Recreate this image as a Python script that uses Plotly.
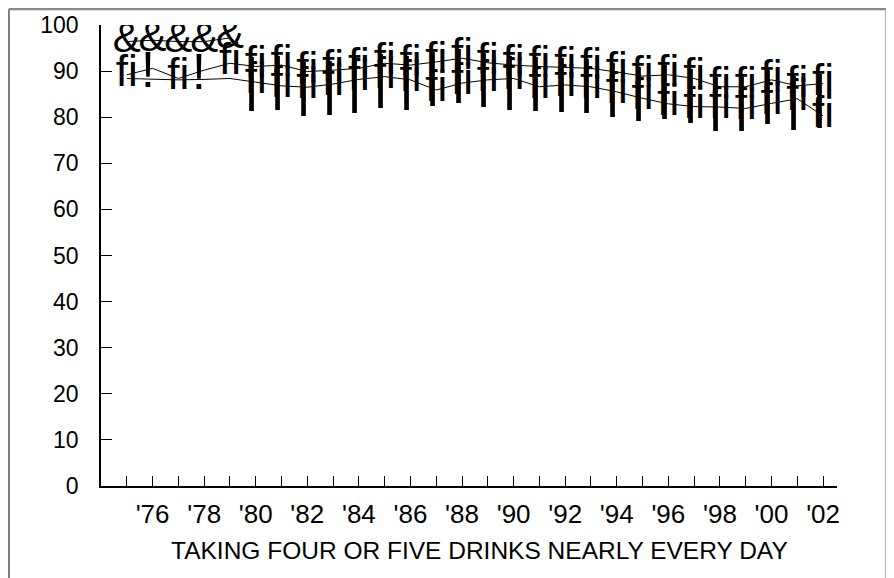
import plotly.graph_objects as go

years = list(range(1975, 2003))
tick_labels = ["'" + str(y)[2:] if y % 2 == 0 else "" for y in years]
x_title = "TAKING FOUR OR FIVE DRINKS NEARLY EVERY DAY"

# upper line
upper = [89.2, 90.6, 88.4, 90.2, 91.7, 91.0, 91.3, 89.9, 90.2, 90.6,
         91.7, 91.3, 92.0, 92.8, 91.8, 91.3, 91.0, 90.8, 90.6, 89.8,
         88.9, 89.2, 88.4, 86.6, 86.6, 88.1, 86.8, 87.3]
# lower line
lower = [88.4, 88.2, 88.1, 88.2, 88.4, 87.6, 86.8, 86.5, 87.2, 88.2,
         88.8, 88.1, 85.9, 87.4, 88.1, 88.4, 86.6, 87.0, 86.6, 85.5,
         84.1, 82.9, 82.3, 82.2, 81.9, 83.0, 84.0, 80.3]
# short top series 1975-79
top_years = [1975, 1976, 1977, 1978, 1979]
top_vals = [96.4, 96.7, 96.4, 96.4, 97.2]

upper_text = ["fi", "", "fi", "", "fi"] + ["fi"] * 23
excl_text = ["", "!", "", "!", ""] + [""] * 23
lower_text = [""] * 5 + ["fi"] * 23
bar_text = [""] * 5 + ["|"] * 23

FONT = "Liberation Sans, Arial, sans-serif"

fig = go.Figure()
fig.add_trace(go.Scatter(x=years, y=lower, mode="lines+text", text=lower_text,
                         textposition="middle center",
                         textfont=dict(family=FONT, size=44, color="black"),
                         line=dict(color="black", width=1), showlegend=False))
fig.add_trace(go.Scatter(x=years, y=upper, mode="lines+text", text=upper_text,
                         textposition="middle center",
                         textfont=dict(family=FONT, size=44, color="black"),
                         line=dict(color="black", width=1), showlegend=False))
fig.add_trace(go.Scatter(x=top_years, y=top_vals, mode="lines+text", text=["&"] * 5,
                         textposition="middle center",
                         textfont=dict(family=FONT, size=42, color="black"),
                         line=dict(color="black", width=1), showlegend=False))

annotations = []
for yr, v, t in zip(years, upper, bar_text):
    if t:
        annotations.append(dict(x=yr, y=v, xref="x", yref="y", text=t, showarrow=False,
                                xshift=-4, yshift=-12,
                                font=dict(family=FONT, size=58, color="black")))
for yr, v, t in zip(years, upper, excl_text):
    if t:
        annotations.append(dict(x=yr, y=v, xref="x", yref="y", text=t, showarrow=False,
                                xshift=-5, yshift=-2,
                                font=dict(family=FONT, size=50, color="black")))
annotations.append(dict(x=0.5, y=-0.139, xref="paper", yref="paper", text=x_title,
                        showarrow=False, xanchor="center", yanchor="middle", xshift=10,
                        font=dict(family=FONT, size=24.5, color="black")))

# frame around the chart
fig.add_shape(type="line", xref="paper", yref="paper", x0=-0.125, x1=-0.125, y0=1.035, y1=-0.3,
              line=dict(color="#555555", width=1.5))
fig.add_shape(type="line", xref="paper", yref="paper", x0=-0.125, x1=1.0684, y0=1.035, y1=1.035,
              line=dict(color="#888888", width=3))
fig.add_shape(type="line", xref="paper", yref="paper", x0=1.0684, x1=1.0684, y0=1.035, y1=-0.3,
              line=dict(color="#888888", width=4))

fig.update_layout(
    width=894, height=578,
    margin=dict(l=93, r=65, t=17, b=100, autoexpand=False),
    paper_bgcolor="white", plot_bgcolor="white",
    font=dict(family=FONT, color="black"),
    annotations=annotations,
    xaxis=dict(range=[1974, 2002.54], tickmode="array", tickvals=years, ticktext=tick_labels,
               ticks="inside", ticklen=10, tickcolor="black", tickwidth=1,
               showline=True, linecolor="black", linewidth=1.5, showgrid=False, zeroline=False,
               tickfont=dict(size=26), ticklabelstandoff=4),
    yaxis=dict(range=[0, 100], tickvals=list(range(0, 101, 10)),
               ticks="inside", ticklen=11, tickcolor="black", tickwidth=1,
               showline=True, linecolor="black", linewidth=1.5, showgrid=False, zeroline=False,
               tickfont=dict(size=23), ticklabelstandoff=16),
)

fig.write_html("out.html")
